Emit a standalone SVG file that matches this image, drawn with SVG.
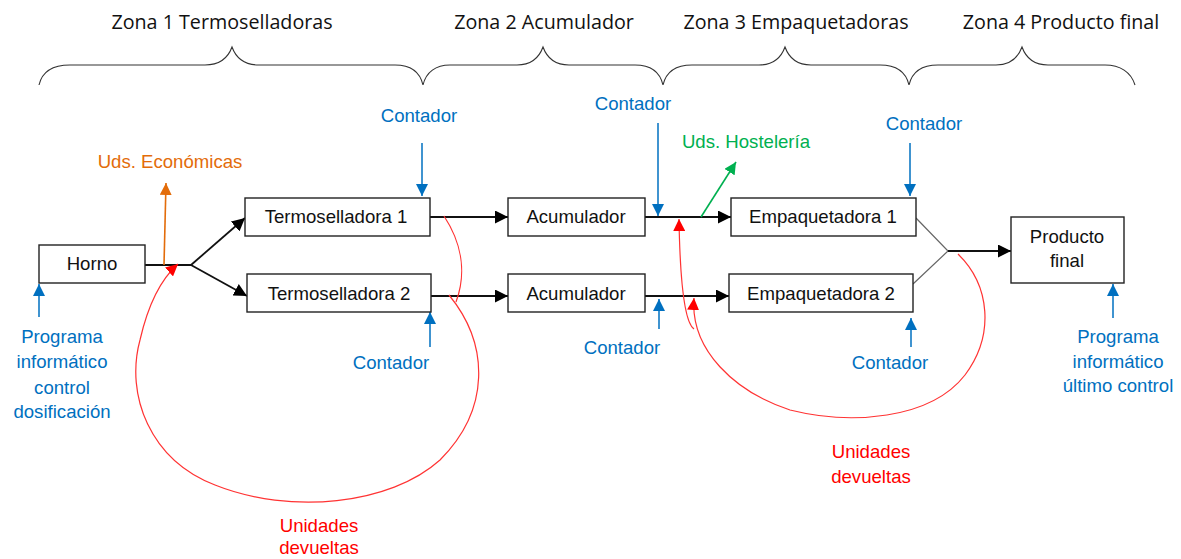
<svg xmlns="http://www.w3.org/2000/svg" width="1181" height="559" viewBox="0 0 1181 559">
<defs>
<marker id="ak" markerUnits="userSpaceOnUse" markerWidth="14" markerHeight="13" refX="13" refY="6.5" orient="auto"><path d="M0,0L13,6.500L0,13z" style="fill:#000"/></marker>
<marker id="ab" markerUnits="userSpaceOnUse" markerWidth="13" markerHeight="12" refX="12" refY="6" orient="auto"><path d="M0,0L12,6L0,12z" style="fill:#0070c0"/></marker>
<marker id="ao" markerUnits="userSpaceOnUse" markerWidth="13" markerHeight="12" refX="12" refY="6" orient="auto"><path d="M0,0L12,6L0,12z" style="fill:#e36c0a"/></marker>
<marker id="ag" markerUnits="userSpaceOnUse" markerWidth="13" markerHeight="12" refX="12" refY="6" orient="auto"><path d="M0,0L12,6L0,12z" style="fill:#00b050"/></marker>
<marker id="ar" markerUnits="userSpaceOnUse" markerWidth="13" markerHeight="12" refX="12" refY="6" orient="auto"><path d="M0,0L12,6L0,12z" style="fill:#f00"/></marker>
</defs>
<style>
text{font-family:"Liberation Sans",Arial,sans-serif;font-size:18.6px;text-anchor:middle}
.z{font-family:"Open Sans","DejaVu Sans",sans-serif;font-size:19.7px;fill:#111}
.b{fill:#0070c0}.r{fill:#f00}
rect{fill:#fff;stroke:#222;stroke-width:1.4}
.n text{fill:#111}
.l{fill:none}
.k{fill:none;stroke:#111;stroke-width:1.8}
.bl{fill:none;stroke:#0070c0;stroke-width:1.5;marker-end:url(#ab)}
.rd{fill:none;stroke:#f33;stroke-width:1.2}
.br{fill:none;stroke:#333;stroke-width:1.1}
</style>
<text class="z" x="222" y="29">Zona 1 Termoselladoras</text>
<text class="z" x="544" y="29">Zona 2 Acumulador</text>
<text class="z" x="796" y="29">Zona 3 Empaquetadoras</text>
<text class="z" x="1061" y="29">Zona 4 Producto final</text>
<g id="braces">
<path class="br" d="M39,85C42,72 53,65 70,65H205C220,65 228,58 232,47C236,58 244,65 259,65H395C410,65 420,72 423,85C426,72 436,65 450,65H517C531,65 539,58 543,47C547,58 555,65 569,65H635C650,65 660,72 663,85C666,72 676,65 692,65H759C773,65 781,58 785,47C789,58 797,65 811,65H880C896,65 906,72 909,85C912,72 922,65 938,65H996C1010,65 1018,58 1022,47C1026,58 1034,65 1048,65H1105C1120,65 1131,72 1135,85"/>
</g>
<g id="connectors">
<line class="k" x1="145" y1="265" x2="191" y2="265"/>
<line class="k" x1="191" y1="265" x2="245" y2="218" marker-end="url(#ak)"/>
<line class="k" x1="191" y1="265" x2="247" y2="296" marker-end="url(#ak)"/>
<line class="k" x1="430" y1="217" x2="508" y2="217" marker-end="url(#ak)"/>
<line class="k" x1="431" y1="296" x2="508" y2="296" marker-end="url(#ak)"/>
<line class="k" x1="645" y1="217" x2="731" y2="217" marker-end="url(#ak)"/>
<line class="k" x1="645" y1="296" x2="729" y2="296" marker-end="url(#ak)"/>
<path class="l" d="M916,218L948,251L913,284" stroke="#666" stroke-width="1.2"/>
<line class="k" x1="948" y1="251" x2="1011" y2="251" marker-end="url(#ak)"/>
<line x1="164" y1="265" x2="166" y2="183" stroke="#e36c0a" stroke-width="1.6" marker-end="url(#ao)"/>
<line x1="701" y1="217" x2="736" y2="162" stroke="#00b050" stroke-width="1.6" marker-end="url(#ag)"/>
<line class="bl" x1="39" y1="317" x2="39" y2="284"/>
<line class="bl" x1="422" y1="143" x2="422" y2="196"/>
<line class="bl" x1="430" y1="347" x2="430" y2="312"/>
<line class="bl" x1="658" y1="123" x2="658" y2="216"/>
<line class="bl" x1="659" y1="329" x2="659" y2="299"/>
<line class="bl" x1="910" y1="143" x2="910" y2="196"/>
<line class="bl" x1="911" y1="347" x2="911" y2="318"/>
<line class="bl" x1="1113" y1="318" x2="1113" y2="284"/>
<path class="rd" d="M444,216C463,245 466,275 456,302"/>
<path class="rd" d="M449,295C490,345 490,410 440,460C390,505 290,515 215,485C150,460 125,395 140,340C148,305 160,280 178,264" marker-end="url(#ar)"/>
<path class="rd" d="M694,329C684,322 680,280 679,219" marker-end="url(#ar)"/>
<path class="rd" d="M958,254C990,285 995,335 965,375C930,420 850,425 790,410C735,392 690,350 694,298" marker-end="url(#ar)"/>
</g>
<g id="horno" class="n"><rect x="39" y="245" width="106" height="38"/><text x="92" y="270">Horno</text></g>
<g id="termo1" class="n"><rect x="245" y="198" width="185" height="38"/><text x="336" y="223">Termoselladora 1</text></g>
<g id="termo2" class="n"><rect x="247" y="274" width="184" height="38"/><text x="339" y="300">Termoselladora 2</text></g>
<g id="acum1" class="n"><rect x="508" y="198" width="137" height="38"/><text x="576" y="223">Acumulador</text></g>
<g id="acum2" class="n"><rect x="508" y="274" width="137" height="38"/><text x="576" y="300">Acumulador</text></g>
<g id="emp1" class="n"><rect x="731" y="198" width="185" height="38"/><text x="823" y="223">Empaquetadora 1</text></g>
<g id="emp2" class="n"><rect x="729" y="274" width="184" height="38"/><text x="821" y="300">Empaquetadora 2</text></g>
<g id="producto" class="n"><rect x="1011" y="217" width="113" height="66"/><text x="1067" y="243">Producto</text><text x="1067" y="267">final</text></g>
<text x="170" y="168" fill="#e36c0a">Uds. Económicas</text>
<text x="746" y="148" fill="#00b050">Uds. Hostelería</text>
<g class="b">
<text x="419" y="122">Contador</text>
<text x="633" y="110">Contador</text>
<text x="924" y="130">Contador</text>
<text x="391" y="369">Contador</text>
<text x="622" y="354">Contador</text>
<text x="890" y="369">Contador</text>
<text x="62" y="343">Programa</text><text x="62" y="368">informático</text><text x="62" y="394">control</text><text x="62" y="418">dosificación</text>
<text x="1118" y="343">Programa</text><text x="1118" y="368">informático</text><text x="1118" y="392">último control</text>
</g>
<g class="r">
<text x="319" y="532">Unidades</text><text x="319" y="554">devueltas</text>
<text x="871" y="458">Unidades</text><text x="871" y="483">devueltas</text>
</g>
</svg>
